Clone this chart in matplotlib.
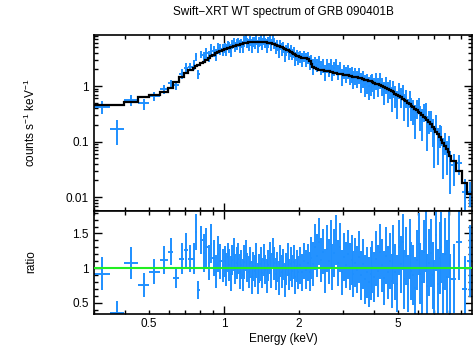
import numpy as np
import matplotlib
matplotlib.use("Agg")
import matplotlib.pyplot as plt
from matplotlib.ticker import FixedLocator, FixedFormatter, NullFormatter

plt.rcParams['font.family'] = ['Liberation Sans', 'DejaVu Sans']
plt.rcParams['mathtext.fontset'] = 'custom'
plt.rcParams['mathtext.rm'] = 'Liberation Sans'
plt.rcParams['font.size'] = 8.5

# Energy bin edges (keV), grouped spectrum
edges_soft = [0.300, 0.348, 0.396, 0.452, 0.500, 0.551, 0.596, 0.624, 0.662,
              0.690, 0.718, 0.748, 0.764, 0.776, 0.800, 0.823,
              0.841, 0.860, 0.879, 0.898, 0.918, 0.938, 0.958, 0.979, 1.000]
edges_mid = [1.014, 1.028, 1.042, 1.057, 1.072, 1.087, 1.102, 1.117, 1.133, 1.149,
             1.165, 1.181, 1.198, 1.214, 1.231, 1.249, 1.266, 1.284, 1.302, 1.320,
             1.339, 1.357, 1.376, 1.396, 1.415, 1.435, 1.455, 1.476, 1.496, 1.517,
             1.539, 1.560, 1.582, 1.604, 1.627, 1.650, 1.673, 1.696, 1.720, 1.744,
             1.768, 1.793, 1.818, 1.844, 1.870, 1.896, 1.922, 1.949, 1.977, 2.005]
edges_hard = [2.041, 2.077, 2.114, 2.151, 2.190, 2.229, 2.268, 2.309, 2.350, 2.392,
              2.434, 2.478, 2.522, 2.567, 2.612, 2.659, 2.706, 2.754, 2.803, 2.853,
              2.904, 2.956, 3.008, 3.062, 3.116, 3.172, 3.228, 3.286, 3.344, 3.404,
              3.464, 3.526, 3.589, 3.653, 3.718, 3.784, 3.851, 3.920, 3.990, 4.061,
              4.133, 4.207, 4.282, 4.358, 4.436, 4.515, 4.595, 4.677, 4.760, 4.845,
              4.931, 5.019]
edges_tail = [5.102, 5.186, 5.271, 5.358, 5.446, 5.536, 5.627, 5.720, 5.814, 5.910,
              6.007, 6.106, 6.207, 6.309, 6.413, 6.519, 6.626, 6.735, 6.846, 6.959,
              7.074, 7.190, 7.309, 7.429, 7.551, 7.676, 7.802, 7.931, 8.061, 8.195,
              8.600, 9.070, 9.480, 10.000]

# Folded model, counts s^-1 keV^-1 per bin
model_soft = [0.46, 0.46, 0.52, 0.64, 0.70, 0.79, 0.91, 1.19, 1.47, 1.70, 1.95, 2.15, 2.25, 2.40, 2.60,
              2.76, 3.00, 3.24, 3.44, 3.68, 3.92, 4.06, 4.22, 4.42]
model_mid = [4.56, 4.68, 4.79, 4.89, 4.98, 5.07, 5.17, 5.27, 5.37, 5.47,
             5.58, 5.68, 5.79, 5.88, 5.96, 6.04, 6.10, 6.16, 6.21, 6.25,
             6.28, 6.30, 6.31, 6.31, 6.30, 6.27, 6.23, 6.17, 6.10, 6.02,
             5.93, 5.83, 5.72, 5.61, 5.49, 5.36, 5.22, 5.08, 4.94, 4.80,
             4.67, 4.54, 4.40, 4.25, 4.11, 3.96, 3.81, 3.67, 3.53, 3.42]
model_hard = [3.32, 3.24, 3.19, 3.15, 3.08, 2.85, 2.45, 2.18, 2.08, 2.02,
              1.98, 1.95, 1.92, 1.89, 1.86, 1.83, 1.80, 1.77, 1.74, 1.71,
              1.68, 1.65, 1.63, 1.60, 1.58, 1.56, 1.53, 1.51, 1.48, 1.46,
              1.43, 1.40, 1.37, 1.34, 1.31, 1.28, 1.25, 1.22, 1.18, 1.14,
              1.11, 1.07, 1.04, 1.00, 0.96, 0.93, 0.89, 0.85, 0.81, 0.77,
              0.73, 0.69]
model_tail = [0.655, 0.625, 0.595, 0.563, 0.532, 0.500, 0.467, 0.440, 0.418, 0.392,
              0.367, 0.345, 0.322, 0.301, 0.281, 0.262, 0.243, 0.225, 0.206, 0.187,
              0.168, 0.151, 0.136, 0.120, 0.107, 0.095, 0.083, 0.073, 0.064, 0.056,
              0.045, 0.030, 0.018, 0.0115]

# Data / model ratio per bin
ratio_soft = [0.92, 0.36, 1.08, 0.76, 0.95, 1.12, 1.24, 0.86, 1.14, 1.26, 1.14, 1.14, 1.52, 0.69, 1.41,
              1.22, 1.30, 1.08, 1.35, 1.15, 0.95, 1.20, 1.10, 1.04]
ratio_mid = [1.10, 0.98, 1.16, 1.04, 0.92, 1.12, 1.20, 0.99, 1.07, 1.14, 0.95, 1.05, 0.90, 1.09, 1.18, 1.01,
             0.94, 1.08, 0.87, 1.03, 0.96, 1.11, 0.85, 1.00, 1.06, 0.93, 1.12, 0.98, 0.89, 1.04,
             1.15, 0.97, 1.21, 1.07, 0.92, 1.02, 0.86, 1.10, 0.95, 1.05, 0.83, 0.99, 1.13, 0.91,
             1.06, 0.96, 1.09, 0.88, 1.03, 0.94]
ratio_hard = [1.04, 0.94, 1.10, 0.98, 1.08, 0.95, 1.15, 1.06, 1.30, 1.18, 1.38, 1.12, 1.24, 0.96,
              1.28, 1.10, 1.35, 1.02, 1.22, 1.40, 1.08, 1.30, 0.94, 1.16, 1.05, 1.20,
              1.02, 1.12, 0.92, 1.08, 0.98, 1.16, 0.90, 1.06, 0.84, 0.94, 0.80, 0.92, 1.02, 0.88,
              1.14, 0.96, 1.24, 1.04, 0.86, 1.18, 0.94, 1.10, 0.82, 1.20, 0.95, 0.78]
ratio_tail = [1.30, 1.06, 1.38, 0.84, 1.18, 0.78, 1.28, 0.96, 0.90, 0.72,
              1.12, 1.35, 0.92, 0.80, 1.24, 1.42, 0.74, 1.08, 1.22, 0.90,
              0.66, 1.48, 0.78, 1.15, 1.30, 0.72, 1.20, 0.88, 1.40, 0.70,
              0.85, 1.38, 0.70, 1.10]

ratio_err_soft = [0.24, 0.17, 0.23, 0.17, 0.18, 0.20, 0.20, 0.15, 0.22, 0.24, 0.20, 0.22, 0.26, 0.13, 0.20,
                  0.27, 0.28, 0.25, 0.28, 0.26, 0.24, 0.26, 0.25, 0.24]
ratio_err_mid = [0.22, 0.24, 0.21, 0.23, 0.25, 0.22, 0.24, 0.21, 0.23, 0.22, 0.25, 0.21, 0.23, 0.24, 0.22, 0.21,
                 0.23, 0.22, 0.24, 0.21, 0.23, 0.25, 0.22, 0.21, 0.24, 0.22, 0.23, 0.21, 0.24, 0.22,
                 0.23, 0.25, 0.22, 0.24, 0.23, 0.22, 0.25, 0.23, 0.24, 0.22, 0.25, 0.23, 0.24, 0.22,
                 0.25, 0.23, 0.24, 0.25, 0.23, 0.24]
ratio_err_hard = [0.26, 0.27, 0.26, 0.28, 0.27, 0.28, 0.30, 0.32, 0.33, 0.31, 0.34, 0.32, 0.33, 0.31,
                  0.34, 0.32, 0.35, 0.33, 0.34, 0.36, 0.33, 0.35, 0.32, 0.34, 0.33, 0.35,
                  0.34, 0.36, 0.33, 0.35, 0.34, 0.37, 0.35, 0.36, 0.35, 0.37, 0.36, 0.38, 0.37, 0.36,
                  0.39, 0.37, 0.40, 0.38, 0.39, 0.41, 0.38, 0.40, 0.39, 0.42, 0.40, 0.41]
ratio_err_tail = [0.40, 0.41, 0.40, 0.42, 0.42, 0.41, 0.43, 0.42, 0.43, 0.44,
                  0.43, 0.45, 0.44, 0.46, 0.45, 0.47, 0.46, 0.48, 0.49, 0.48,
                  0.46, 0.52, 0.50, 0.52, 0.51, 0.50, 0.52, 0.53, 0.54, 0.50,
                  0.50, 0.55, 0.48, 0.52]

edges = np.array(edges_soft + edges_mid + edges_hard + edges_tail)
model = np.array(model_soft + model_mid + model_hard + model_tail)
ratio = np.array(ratio_soft + ratio_mid + ratio_hard + ratio_tail)
ratio_err = np.array(ratio_err_soft + ratio_err_mid + ratio_err_hard + ratio_err_tail)

lo, hi = edges[:-1], edges[1:]
energy = np.sqrt(lo * hi)
xerr = np.vstack([energy - lo, hi - energy])
counts = ratio * model
counts_err = ratio_err * model
counts_lo = np.minimum(counts_err, counts * 0.999)

blue = '#1e8fff'

fig = plt.figure(figsize=(4.74, 3.47), dpi=100)
ax1 = fig.add_axes([0.198, 0.393, 0.797, 0.506])
ax2 = fig.add_axes([0.198, 0.0942, 0.797, 0.299])

ax1.errorbar(energy, counts, xerr=xerr, yerr=[counts_lo, counts_err], fmt='none',
             ecolor=blue, elinewidth=1.4, capsize=0, zorder=2)
ax1.stairs(model, edges, baseline=None, color='black', linewidth=1.6, zorder=3)
ax1.set_xscale('log')
ax1.set_yscale('log')
ax1.set_xlim(0.3, 9.9)
ax1.set_ylim(0.00574, 8.27)

ax2.errorbar(energy, ratio, xerr=xerr, yerr=ratio_err, fmt='none',
             ecolor=blue, elinewidth=1.4, capsize=0, zorder=2)
ax2.axhline(1.0, color='#22ee22', linewidth=1.5, zorder=3)
ax2.set_xscale('log')
ax2.set_xlim(0.3, 9.9)
ax2.set_ylim(0.337, 1.83)

major_x = [1.0]
minor_x = [0.3, 0.4, 0.5, 0.6, 0.7, 0.8, 0.9, 2, 3, 4, 5, 6, 7, 8, 9]
minor_lbl = ['' if v not in (0.5, 2, 5) else ('0.5' if v == 0.5 else str(int(v))) for v in minor_x]
for ax in (ax1, ax2):
    ax.xaxis.set_major_locator(FixedLocator(major_x))
    ax.xaxis.set_minor_locator(FixedLocator(minor_x))
    ax.tick_params(which='both', direction='in', top=True, right=True, width=1.0, colors='black',
                   labelsize=8.5)
    ax.tick_params(which='major', length=6)
    ax.tick_params(which='minor', length=3)
    for s in ax.spines.values():
        s.set_linewidth(1.2)

ax1.xaxis.set_major_formatter(NullFormatter())
ax1.xaxis.set_minor_formatter(NullFormatter())
ax2.xaxis.set_major_formatter(FixedFormatter(['1']))
ax2.xaxis.set_minor_formatter(FixedFormatter(minor_lbl))
ax2.tick_params(axis='x', which='both', pad=3)

ax1.yaxis.set_major_locator(FixedLocator([0.01, 0.1, 1]))
ax1.yaxis.set_major_formatter(FixedFormatter(['0.01', '0.1', '1']))
ax1.yaxis.set_minor_locator(FixedLocator([m * d for d in (0.001, 0.01, 0.1, 1) for m in range(2, 10)]))
ax1.yaxis.set_minor_formatter(NullFormatter())

ax2.yaxis.set_major_locator(FixedLocator([0.5, 1.0, 1.5]))
ax2.yaxis.set_major_formatter(FixedFormatter(['0.5', '1', '1.5']))
ax2.yaxis.set_minor_locator(FixedLocator([0.4, 0.6, 0.7, 0.8, 0.9, 1.1, 1.2, 1.3, 1.4, 1.6, 1.7, 1.8]))

fig.text(0.597, 0.965, 'Swift\u2212XRT WT spectrum of GRB 090401B', ha='center', va='center', fontsize=8.5)
fig.text(0.065, 0.646, r'counts s$^{-1}$ keV$^{-1}$', rotation=90, ha='center', va='center', fontsize=8.5)
fig.text(0.065, 0.245, 'ratio', rotation=90, ha='center', va='center', fontsize=8.5)
fig.text(0.597, 0.022, 'Energy (keV)', ha='center', va='center', fontsize=8.5)

fig.savefig('out.png', dpi=100)
